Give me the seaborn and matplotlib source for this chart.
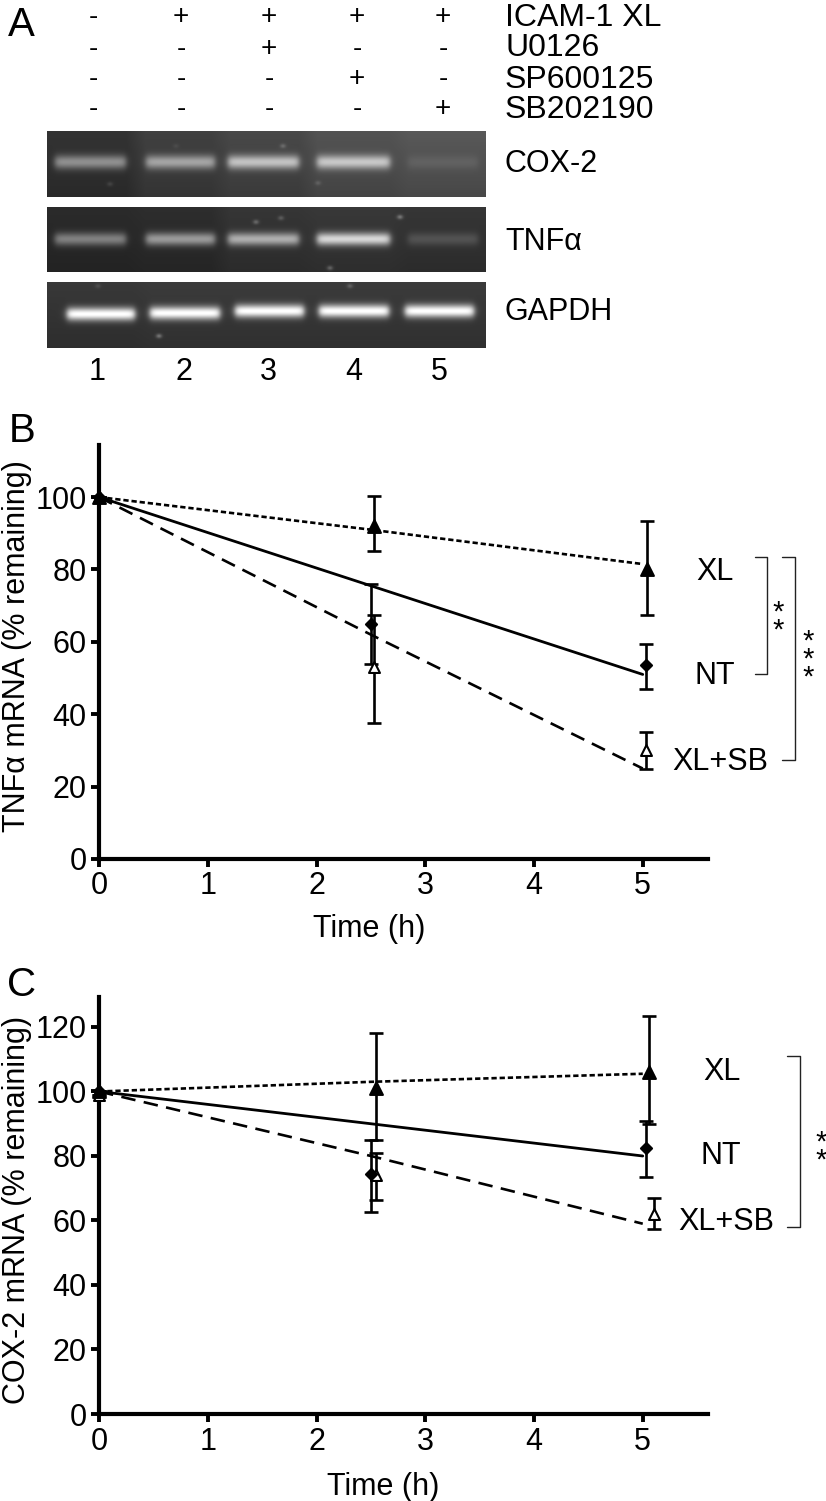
#!/usr/bin/env python3
"""Gel panel plus TNFa and COX-2 mRNA decay curves."""

import numpy as np
import pandas as pd
import seaborn as sns
import matplotlib
matplotlib.use("Agg")
import matplotlib.pyplot as plt

sns.set_style("white")
plt.rcParams['font.family'] = ['Liberation Sans', 'DejaVu Sans']

W, H = 826, 1501

# treatment table
treatments = ['ICAM-1 XL', 'U0126', 'SP600125', 'SB202190']
treatment_signs = [
    ['-', '+', '+', '+', '+'],
    ['-', '-', '+', '-', '-'],
    ['-', '-', '-', '+', '-'],
    ['-', '-', '-', '-', '+'],
]
lanes = ['1', '2', '3', '4', '5']

# gel band peak brightness per lane (0-1) and lane background
cox2_bands = [0.56, 0.64, 0.76, 0.78, 0.38]
tnf_bands = [0.50, 0.60, 0.68, 0.84, 0.32]
gapdh_bands = [1.0, 1.0, 1.0, 1.0, 1.0]
cox2_bg = [0.19, 0.24, 0.27, 0.31, 0.33]
tnf_bg = [0.16, 0.17, 0.20, 0.21, 0.20]
gapdh_bg = [0.21, 0.22, 0.22, 0.22, 0.22]
cox2_specks = [(110, 184, 0.09), (176, 146, 0.05), (283, 146, 0.14), (318, 183, 0.10)]
tnf_specks = [(256, 222, 0.2), (281, 218, 0.15), (400, 217, 0.25), (330, 268, 0.2)]
gapdh_specks = [(159, 336, 0.25), (350, 286, 0.15), (98, 286, 0.08)]

# panel B
tnf_fit_time = [0, 2.5, 5]
tnf_fit_xl = [100, 91, 81.5]
tnf_fit_nt = [100, 75.5, 51]
tnf_fit_sb = [100, 62, 25]
tnf_time_xl = [0, 2.53, 5.04]
tnf_xl = [100, 92, 80]
tnf_xl_lo = [100, 85, 67.5]
tnf_xl_hi = [100, 100.3, 93.5]
tnf_time_nt = [0, 2.5, 5.03]
tnf_nt = [100, 65, 53.5]
tnf_nt_lo = [100, 54, 47]
tnf_nt_hi = [100, 76, 59.5]
tnf_time_sb = [0, 2.53, 5.03]
tnf_sb = [100, 53, 30]
tnf_sb_lo = [100, 37.5, 25]
tnf_sb_hi = [100, 67.3, 35]

# panel C
cox_fit_time = [0, 2.5, 5]
cox_fit_xl = [100, 103, 105.5]
cox_fit_nt = [100, 90, 80]
cox_fit_sb = [100, 80, 59]
cox_time_xl = [0, 2.55, 5.06]
cox_xl = [100, 101, 106]
cox_xl_lo = [100, 85, 90]
cox_xl_hi = [100, 118, 123.5]
cox_time_nt = [0, 2.5, 5.03]
cox_nt = [100, 74.5, 82.5]
cox_nt_lo = [100, 62.5, 73.5]
cox_nt_hi = [100, 85, 91]
cox_time_sb = [0, 2.55, 5.1]
cox_sb = [99, 74, 62]
cox_sb_lo = [99, 66.5, 57.5]
cox_sb_hi = [99, 81, 67]

x_ticks = [0, 1, 2, 3, 4, 5]
tnf_ticks = [0, 20, 40, 60, 80, 100]
cox_ticks = [0, 20, 40, 60, 80, 100, 120]

DOTTED = (0, (2.0, 1.1))
DASHED = (0, (5.5, 3.2))
TEXT_SIZE = 22


def px_axes(fig, left, top, right, bottom):
    """Axes placed by reference-image pixels."""
    return fig.add_axes([left / W, 1 - bottom / H, (right - left) / W, (bottom - top) / H])


def gel_image(left, top, right, bottom, bands, bg, starts, ends, centers, half, specks):
    """Build a gel photo as a grid of brightness cells, in pixel positions."""
    xs = np.arange(left, right) + 0.5
    ys = np.arange(top, bottom) + 0.5
    # lane backgrounds, softened across the lane borders
    back = np.full(len(xs), float(bg[0]))
    for i in range(1, 5):
        back[xs >= (ends[i - 1] + starts[i]) / 2] = bg[i]
    pad = np.pad(back, 9, mode='edge')
    back = np.convolve(pad, np.ones(19) / 19, mode='valid')
    img = np.tile(back, (len(ys), 1))
    # a little darker towards the bottom of the photo
    img *= 1.05 - 0.2 * (ys - top)[:, None] / (bottom - top)
    for i in range(5):
        across = 1 / (1 + np.exp((starts[i] - xs) / 1.8)) / (1 + np.exp((xs - ends[i]) / 1.8))
        down = np.exp(-np.abs((ys - centers[i]) / half) ** 2.0)
        shape = np.outer(down, across)
        img = img + (bands[i] - img) * shape
    for sx, sy, level in specks:
        img += level * np.exp(-((xs - sx) ** 2)[None, :] / 9.0 - ((ys - sy) ** 2)[:, None] / 5.0)
    return np.clip(img, 0, 1)


def draw_gel(fig, left, top, right, bottom, *args):
    ax = px_axes(fig, left, top, right, bottom)
    img = gel_image(left, top, right, bottom, *args)
    sns.heatmap(img, ax=ax, cmap='gray', vmin=0, vmax=1, cbar=False,
                xticklabels=False, yticklabels=False)
    for spine in ax.spines.values():
        spine.set_visible(False)
    return ax


def draw_decay(fig, box, ymax, yticks, fits, points):
    ax = px_axes(fig, *box)
    fit_time, fit_series = fits
    frame = pd.DataFrame({'time': fit_time})
    for (name, values), style, width in zip(fit_series.items(), [DOTTED, '-', DASHED], [1.9, 2.0, 1.9]):
        frame[name] = values
        sns.lineplot(data=frame, x='time', y=name, color='black', linestyle=style,
                     linewidth=width, errorbar=None, ax=ax, clip_on=False)
    for time, vals, lo, hi, marker, size, face in points:
        vals = np.array(vals)
        ax.errorbar(time, vals, yerr=[vals - np.array(lo), np.array(hi) - vals], fmt='none',
                    ecolor='black', elinewidth=1.9, capsize=5, capthick=1.9, clip_on=False, zorder=3)
        sns.scatterplot(x=time, y=vals, marker=marker, s=size, facecolor=face, edgecolor='black',
                        linewidth=1.5, ax=ax, clip_on=False, zorder=4)
    ax.set_xlim(0, 5.6)
    ax.set_ylim(0, ymax)
    ax.set_xticks(x_ticks)
    ax.set_yticks(yticks)
    ax.set_xlabel('')
    ax.set_ylabel('')
    ax.tick_params(axis='both', direction='out', length=6, width=2.8, color='black',
                   labelcolor='black', labelsize=TEXT_SIZE, pad=3, bottom=True, left=True)
    ax.patch.set_alpha(0)
    sns.despine(ax=ax)
    for side in ('left', 'bottom'):
        ax.spines[side].set_linewidth(3.0)
        ax.spines[side].set_color('black')
    return ax


fig = plt.figure(figsize=(W / 100, H / 100), dpi=100)

# panel A
lane_starts = [55, 146, 228, 317, 408]
lane_ends = [126, 215, 299, 390, 478]
gapdh_starts = [67, 150, 235, 319, 405]
gapdh_ends = [135, 220, 304, 389, 474]
draw_gel(fig, 47, 131, 486, 197, cox2_bands, cox2_bg, lane_starts, lane_ends, [162] * 5, 7.0, cox2_specks)
draw_gel(fig, 47, 207, 486, 272, tnf_bands, tnf_bg, lane_starts, lane_ends, [239] * 5, 6.5, tnf_specks)
draw_gel(fig, 47, 282, 486, 348, gapdh_bands, gapdh_bg, gapdh_starts, gapdh_ends,
         [314, 313, 311, 311, 311], 6.5, gapdh_specks)

# panel B
draw_decay(fig, (99, 445, 708, 859), 114.4, tnf_ticks,
           (tnf_fit_time, {'xl': tnf_fit_xl, 'nt': tnf_fit_nt, 'sb': tnf_fit_sb}),
           [(tnf_time_sb, tnf_sb, tnf_sb_lo, tnf_sb_hi, '^', 62, 'white'),
            (tnf_time_nt, tnf_nt, tnf_nt_lo, tnf_nt_hi, 'D', 32, 'black'),
            (tnf_time_xl, tnf_xl, tnf_xl_lo, tnf_xl_hi, '^', 85, 'black')])

# panel C
draw_decay(fig, (99, 997, 708, 1414), 129.3, cox_ticks,
           (cox_fit_time, {'xl': cox_fit_xl, 'nt': cox_fit_nt, 'sb': cox_fit_sb}),
           [(cox_time_sb, cox_sb, cox_sb_lo, cox_sb_hi, '^', 62, 'white'),
            (cox_time_nt, cox_nt, cox_nt_lo, cox_nt_hi, 'D', 32, 'black'),
            (cox_time_xl, cox_xl, cox_xl_lo, cox_xl_hi, '^', 85, 'black')])

# annotation layer in pixel coordinates
over = fig.add_axes([0, 0, 1, 1])
over.set_xlim(0, W)
over.set_ylim(H, 0)
over.axis('off')
over.patch.set_alpha(0)


def label(x, y, s, size=TEXT_SIZE, ha='center', **kw):
    over.text(x, y + 2.5, s, fontsize=size, ha=ha, va='center', color='black', **kw)


def bracket(x0, x1, top, bottom):
    over.plot([x0, x1, x1, x0], [top, top, bottom, bottom], color='#222222', lw=1.0)


def stars(x, y, count):
    label(x, y, '\n'.join('*' * count), size=21, linespacing=0.56)


for tx, ty, letter in [(21, 23, 'A'), (22, 429, 'B'), (22, 983, 'C')]:
    label(tx, ty, letter, size=29)

sign_x = [93, 181, 269, 357, 443]
row_y = [15, 46, 77, 107]
for name, signs, ry in zip(treatments, treatment_signs, row_y):
    label(505, ry, name, size=23, ha='left')
    for sx, sign in zip(sign_x, signs):
        label(sx, ry, sign, size=20)

for ty, name in zip([162, 239, 309], ['COX-2', 'TNF\u03b1', 'GAPDH']):
    label(505, ty, name, size=22, ha='left')
for lx, lane in zip([97, 184, 268, 354, 439], lanes):
    label(lx, 370, lane, size=22)

label(17, 644, 'TNF\u03b1 mRNA (% remaining)', rotation=90)
label(369, 926, 'Time (h)')
label(715, 570, 'XL')
label(715, 673, 'NT')
label(720, 759, 'XL+SB')
bracket(755, 767, 556.5, 674)
bracket(782, 795, 556.5, 760)
stars(778, 619, 2)
stars(808, 657, 3)

label(17, 1207, 'COX-2 mRNA (% remaining)', rotation=90)
label(383, 1485, 'Time (h)')
label(722, 1070, 'XL')
label(721, 1153, 'NT')
label(726, 1219, 'XL+SB')
bracket(787, 800, 1056, 1227)
stars(821, 1149, 2)

fig.savefig('out.png', dpi=100)
